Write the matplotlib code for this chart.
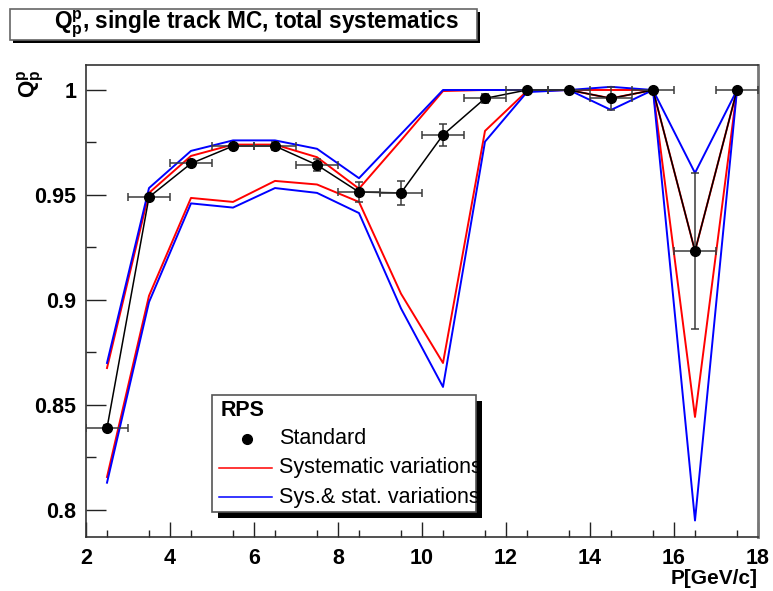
import matplotlib
matplotlib.use('Agg')
import matplotlib.pyplot as plt
from matplotlib.patches import Rectangle
from matplotlib.lines import Line2D

plt.rcParams['font.family'] = ['Liberation Sans', 'DejaVu Sans']
plt.rcParams['mathtext.fontset'] = 'custom'
plt.rcParams['mathtext.rm'] = 'Liberation Sans'
plt.rcParams['mathtext.it'] = 'Liberation Sans:italic'
plt.rcParams['mathtext.bf'] = 'Liberation Sans:bold'

# momentum bin centres [GeV/c]
momentum = [2.5, 3.5, 4.5, 5.5, 6.5, 7.5, 8.5, 9.5, 10.5, 11.5, 12.5, 13.5, 14.5, 15.5, 16.5, 17.5]
momentum_halfwidth = 0.5

# standard selection and its statistical error
standard = [0.839, 0.949, 0.965, 0.9733, 0.9733, 0.9643, 0.9514, 0.951,
            0.9786, 0.996, 1.0, 1.0, 0.996, 1.0, 0.9233, 1.0]
stat_err = [0.0015, 0.0012, 0.0012, 0.0010, 0.0020, 0.0028, 0.0048, 0.0057,
            0.0051, 0.0020, 0.0005, 0.0003, 0.0055, 0.0003, 0.0372, 0.0003]

# systematic variations (upper / lower envelope)
sys_upper = [0.8676, 0.951, 0.9686, 0.974, 0.974, 0.968, 0.953, 0.976,
             0.9995, 1.0, 1.0, 1.0, 1.0, 1.0, 0.9233, 1.0]
sys_lower = [0.8157, 0.902, 0.9486, 0.9467, 0.9567, 0.955, 0.9467, 0.903,
             0.870, 0.9805, 0.9995, 1.0, 0.996, 1.0, 0.8443, 1.0]

# systematic + statistical variations (upper / lower envelope)
tot_upper = [0.870, 0.9533, 0.971, 0.976, 0.976, 0.972, 0.958, 0.979,
             1.0, 1.0, 1.0, 1.0, 1.0015, 1.0, 0.9605, 1.0]
tot_lower = [0.813, 0.899, 0.946, 0.944, 0.9533, 0.951, 0.9414, 0.896,
             0.8586, 0.9754, 0.999, 1.0, 0.9905, 1.0, 0.795, 1.0]

x_ticks = [2, 4, 6, 8, 10, 12, 14, 16, 18]
x_tick_labels = ['2', '4', '6', '8', '10', '12', '14', '16', '18']
y_ticks = [0.8, 0.85, 0.9, 0.95, 1.0]
y_tick_labels = ['0.8', '0.85', '0.9', '0.95', '1']

title_text = r'$\mathbf{Q^p_p}$, single track MC, total systematics'
y_title = r'$\mathbf{Q^p_p}$'
x_title = 'P[GeV/c]'
legend_header = 'RPS'
legend_labels = ['Standard', 'Systematic variations', 'Sys.& stat. variations']

W, H = 773, 591
fig = plt.figure(figsize=(W / 100, H / 100), dpi=100)


def fx(px):
    return px / W


def fy(py):
    return 1 - py / H


ax = fig.add_axes([fx(86), fy(537), fx(758) - fx(86), fy(65) - fy(537)])
ax.set_xlim(2, 18)
ax.set_ylim(0.78714, 1.0119)

red = '#ff0000'
blue = '#0000ff'

ax.plot(momentum, sys_upper, color=red, lw=1.4, zorder=2)
ax.plot(momentum, sys_lower, color=red, lw=1.4, zorder=2)
ax.plot(momentum, tot_upper, color=blue, lw=1.4, zorder=2)
ax.plot(momentum, tot_lower, color=blue, lw=1.4, zorder=2)

ax.plot(momentum, standard, color='black', lw=1.1, zorder=3)
ax.errorbar(momentum, standard, xerr=momentum_halfwidth, yerr=stat_err,
            fmt='none', ecolor='#3a3a3a', elinewidth=1.1, capsize=3,
            capthick=1.1, zorder=3)
ax.plot(momentum, standard, 'o', color='black', ms=7, zorder=4)

ax.set_xticks(x_ticks)
ax.set_xticklabels(x_tick_labels)
ax.set_xticks([v + 0.5 for v in range(2, 18)], minor=True)
ax.set_yticks(y_ticks)
ax.set_yticklabels(y_tick_labels)
ax.set_yticks([0.825, 0.875, 0.925, 0.975], minor=True)

ax.tick_params(axis='both', which='both', direction='in', top=False, right=False,
               color='#222222', width=1)
ax.tick_params(axis='y', which='major', length=14.4, pad=7)
ax.tick_params(axis='y', which='minor', length=7.2)
ax.tick_params(axis='x', which='major', length=10.8, pad=8)
ax.tick_params(axis='x', which='minor', length=5.4)
for lab in ax.get_xticklabels() + ax.get_yticklabels():
    lab.set_fontsize(15.5)
    lab.set_fontweight('bold')

for side, sp in ax.spines.items():
    sp.set_color('#333333')
    sp.set_linewidth(1.2)
ax.spines['right'].set_color('#777777')
ax.spines['right'].set_linewidth(2)

# axis titles
fig.text(fx(758), fy(578), x_title, ha='right', va='center',
         fontsize=15, fontweight='bold')
fig.text(fx(31), fy(84), y_title, ha='center', va='center', rotation=90,
         fontsize=16)

# title box with drop shadow
tb = (10, 9, 477, 40)
fig.patches.append(Rectangle((fx(tb[0] + 3), fy(tb[3] + 3)), fx(tb[2] - tb[0]),
                             fy(tb[1]) - fy(tb[3]), transform=fig.transFigure,
                             facecolor='black', edgecolor='none', zorder=1))
fig.patches.append(Rectangle((fx(tb[0]), fy(tb[3])), fx(tb[2] - tb[0]),
                             fy(tb[1]) - fy(tb[3]), transform=fig.transFigure,
                             facecolor='white', edgecolor='#666666', lw=1.2, zorder=2))
fig.text(fx(257), fy(24), title_text, ha='center', va='center',
         fontsize=16.3, fontweight='bold', zorder=3)

# legend box with drop shadow
lb = (212, 395, 476, 512)
sh = 6
fig.add_artist(Rectangle((fx(lb[0] + sh), fy(lb[3] + sh)), fx(lb[2] - lb[0]),
                         fy(lb[1]) - fy(lb[3]), transform=fig.transFigure,
                         facecolor='black', edgecolor='none', zorder=5))
fig.add_artist(Rectangle((fx(lb[0]), fy(lb[3])), fx(lb[2] - lb[0]),
                         fy(lb[1]) - fy(lb[3]), transform=fig.transFigure,
                         facecolor='white', edgecolor='#555555', lw=1.2, zorder=6))
fig.text(fx(221), fy(410), legend_header, ha='left', va='center',
         fontsize=15.5, fontweight='bold', zorder=7)
fig.add_artist(Line2D([fx(247)], [fy(439)], marker='o', ms=7, color='black',
                      transform=fig.transFigure, zorder=7))
fig.add_artist(Line2D([fx(219), fx(272)], [fy(468), fy(468)], color=red, lw=1.1,
                      transform=fig.transFigure, zorder=7))
fig.add_artist(Line2D([fx(219), fx(272)], [fy(497), fy(497)], color=blue, lw=1.1,
                      transform=fig.transFigure, zorder=7))
for lab, yy in zip(legend_labels, [439, 468, 497]):
    fig.text(fx(279), fy(yy), lab, ha='left', va='center', fontsize=15.5, zorder=7)

fig.savefig('out.png', dpi=100)
